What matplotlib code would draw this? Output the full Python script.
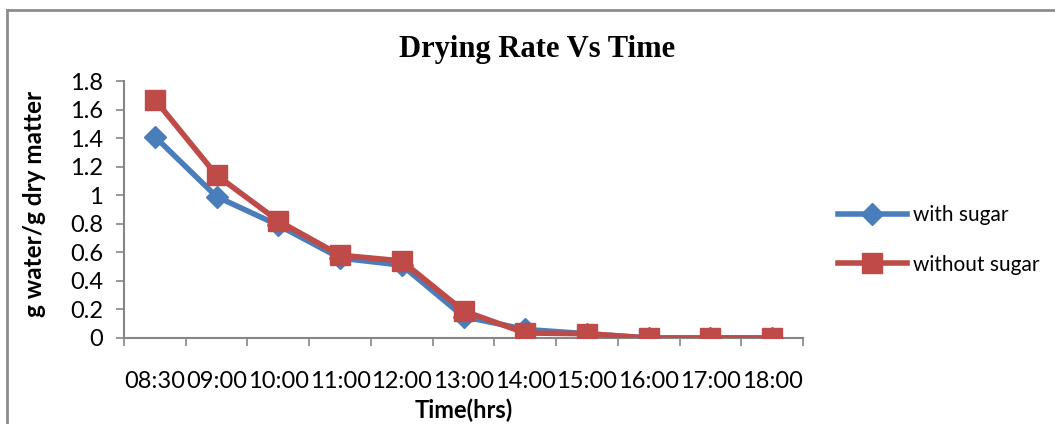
import matplotlib.pyplot as plt
from matplotlib.lines import Line2D
import numpy as np

times = ["08:30", "09:00", "10:00", "11:00", "12:00", "13:00",
         "14:00", "15:00", "16:00", "17:00", "18:00"]
with_sugar = [1.41, 0.99, 0.79, 0.56, 0.51, 0.15, 0.06, 0.03, 0.0, 0.0, 0.0]
without_sugar = [1.67, 1.14, 0.82, 0.58, 0.54, 0.19, 0.035, 0.03, 0.0, 0.0, 0.0]
yticks = [0, 0.2, 0.4, 0.6, 0.8, 1, 1.2, 1.4, 1.6, 1.8]
ytick_labels = ["0", "0.2", "0.4", "0.6", "0.8", "1", "1.2", "1.4", "1.6", "1.8"]

plt.rcParams["font.family"] = ["Lato", "DejaVu Sans"]

fig = plt.figure(figsize=(10.55, 4.24), dpi=100)
ax = fig.add_axes([124 / 1055, 1 - 338 / 424, (803 - 124) / 1055, (338 - 81) / 424])

x = np.arange(len(times))
blue = "#4a7ebb"
red = "#be4b48"
ax.plot(x, with_sugar, color=blue, lw=4, marker="D", ms=11,
        markeredgecolor=blue, label="with sugar", zorder=3)
ax.plot(x, without_sugar, color=red, lw=4, marker="s", ms=14,
        markeredgecolor=red, label="without sugar", zorder=4)

ax.set_xlim(-0.5, len(times) - 0.5)
ax.set_ylim(0, 1.8)
ax.set_yticks(yticks)
ax.set_yticklabels(ytick_labels, fontsize=17)
ax.set_xticks(x)
ax.set_xticklabels(times, fontsize=17)
ax.set_xticks(np.arange(len(times) + 1) - 0.5, minor=True)
ax.tick_params(axis="x", which="major", length=0, pad=24)
ax.tick_params(axis="x", which="minor", length=6, color="#868686", width=1.2)
ax.tick_params(axis="y", length=6, color="#868686", width=1.2, pad=9)

for s in ["top", "right"]:
    ax.spines[s].set_visible(False)
for s in ["left", "bottom"]:
    ax.spines[s].set_color("#868686")
    ax.spines[s].set_linewidth(1.5)

ax.set_xlabel("Time(hrs)", fontsize=17, fontweight="bold")
ax.xaxis.set_label_coords(0.5, -(399 - 338) / 257)
ax.set_ylabel("g water/g dry matter", fontsize=17.5, fontweight="bold")
ax.yaxis.set_label_coords((46 - 124) / 679, 0.52)

fig.text(537 / 1055, 1 - 50 / 424, "Drying Rate Vs Time", ha="center", va="center",
         fontsize=22, fontweight="bold", family="Liberation Serif")

handles = [
    Line2D([0], [0], color=blue, lw=4, marker="D", ms=11, markeredgecolor=blue),
    Line2D([0], [0], color=red, lw=4, marker="s", ms=14, markeredgecolor=red),
]
fig.legend(handles, ["with sugar", "without sugar"], loc="center left",
           bbox_to_anchor=(838 / 1055, 1 - 240 / 424), frameon=False,
           borderpad=0, borderaxespad=0,
           fontsize=15, handlelength=3.3, handletextpad=0.3, labelspacing=1.4)

# outer chart border (top and left visible)
fig.add_artist(Line2D([7 / 1055, 1.0], [1 - 10 / 424, 1 - 10 / 424],
                      color="#8c8c8c", lw=2, transform=fig.transFigure))
fig.add_artist(Line2D([7 / 1055, 7 / 1055], [0, 1 - 10 / 424],
                      color="#8c8c8c", lw=2, transform=fig.transFigure))

fig.savefig("out.png", dpi=100)
